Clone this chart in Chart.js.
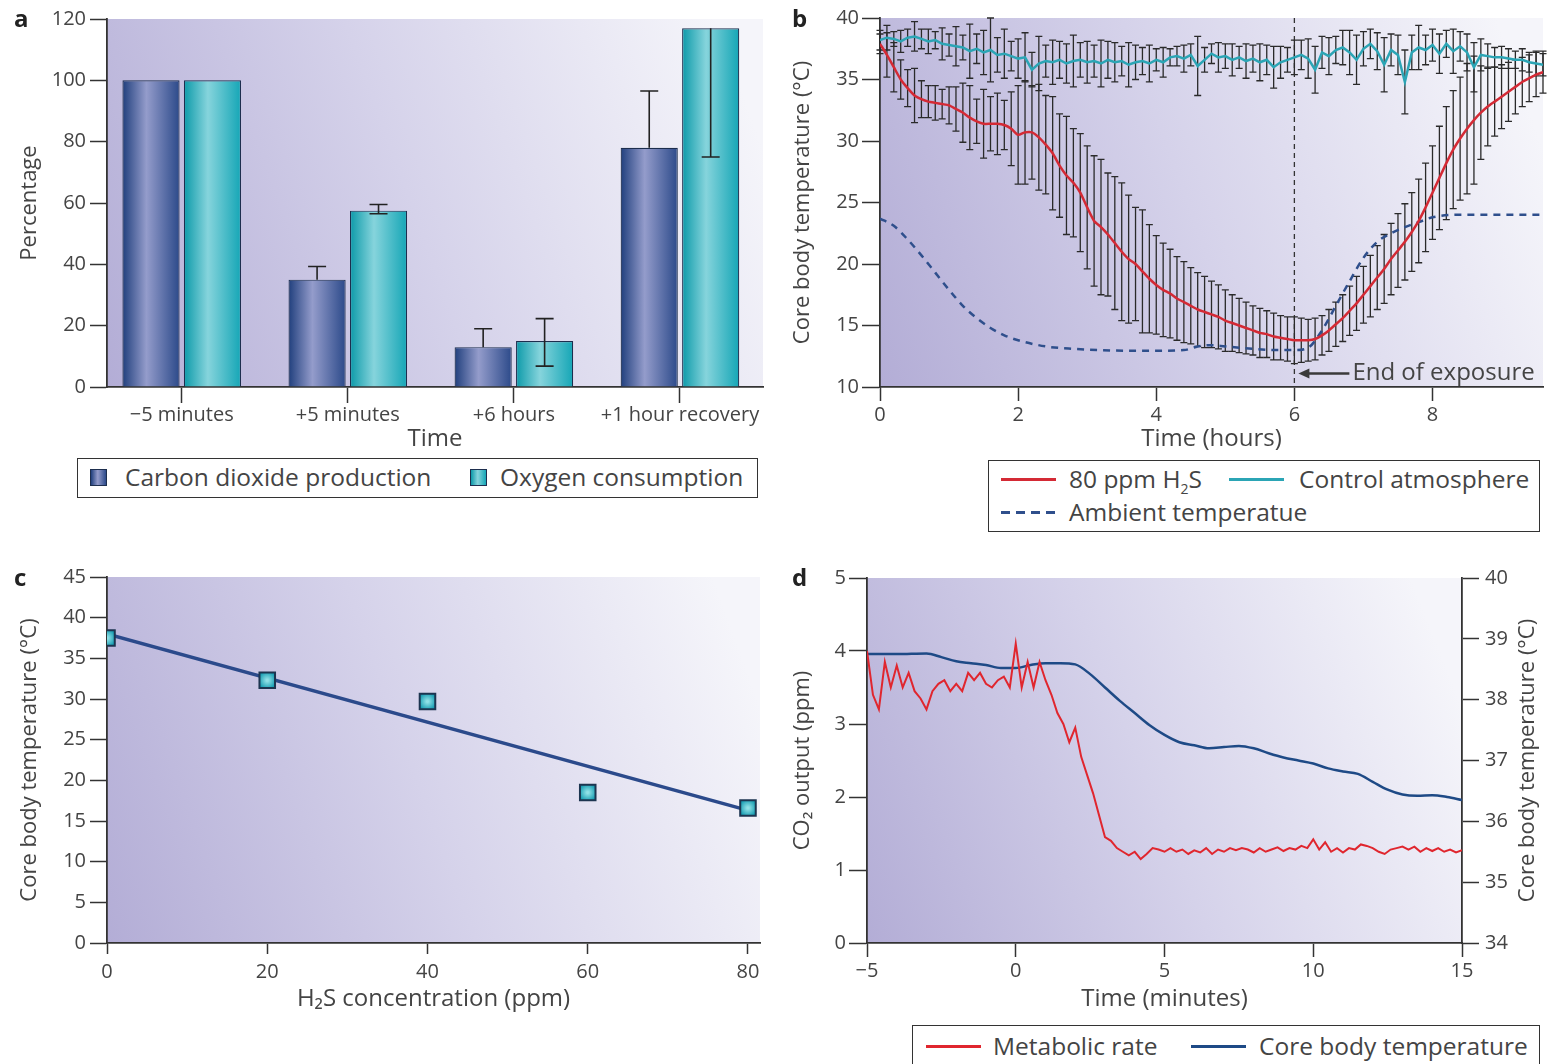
<html>
<head>
<script src="https://cdn.jsdelivr.net/npm/chart.js@4.4.0/dist/chart.umd.min.js"></script>
<style>
    body { margin: 0; background: #fff; font-family: 'Open Sans', 'Noto Sans', sans-serif; color: #444; }
    #page { position: relative; width: 1549px; height: 1064px; overflow: hidden; }
    canvas { position: absolute; }
    .tag { position: absolute; font-weight: bold; font-size: 24px; color: #222; line-height: 24px; }
    .legend { position: absolute; border: 1.5px solid #333; box-sizing: border-box; background: #fff; }
    .legend span { position: absolute; }
    .lt { font-size: 24.5px; color: #444; line-height: 30px; white-space: nowrap; }
    .sq { width: 17px; height: 17px; border: 1.5px solid #1d2e4e; box-sizing: border-box; }
    .ln { height: 3px; width: 55px; }
    sub { font-size: 14px; line-height: 0; }
</style>
</head>
<body>
<div id="page">
    <canvas id="chartA" width="780" height="455" style="left:0px;top:0px"></canvas>
    <canvas id="chartB" width="769" height="455" style="left:780px;top:0px"></canvas>
    <canvas id="chartC" width="780" height="470" style="left:0px;top:560px"></canvas>
    <canvas id="chartD" width="769" height="460" style="left:780px;top:560px"></canvas>

    <div class="tag" style="left:14px;top:6px">a</div>
    <div class="tag" style="left:792px;top:6px">b</div>
    <div class="tag" style="left:14px;top:565px">c</div>
    <div class="tag" style="left:792px;top:565px">d</div>

    <div class="legend" style="left:77px;top:458px;width:681px;height:40px">
        <span class="sq" style="left:12px;top:10px;background:linear-gradient(90deg,#203f7d,#949ccb 45%,#2c4a8a)"></span>
        <span class="lt" style="left:47px;top:3px">Carbon dioxide production</span>
        <span class="sq" style="left:392px;top:10px;background:linear-gradient(90deg,#0c9aa9,#86d4dc 45%,#15a6b6)"></span>
        <span class="lt" style="left:422px;top:3px">Oxygen consumption</span>
    </div>

    <div class="legend" style="left:988px;top:460px;width:552px;height:72px">
        <span class="ln" style="left:12px;top:17px;background:#d42a35"></span>
        <span class="lt" style="left:80px;top:3px">80 ppm H<sub>2</sub>S</span>
        <span class="ln" style="left:240px;top:17px;background:#2ba5b5"></span>
        <span class="lt" style="left:310px;top:3px">Control atmosphere</span>
        <span class="ln" style="left:12px;top:50px;background:repeating-linear-gradient(90deg,#2f4f8c 0 9px,transparent 9px 15px)"></span>
        <span class="lt" style="left:80px;top:36px">Ambient temperatue</span>
    </div>

    <div class="legend" style="left:912px;top:1025px;width:628px;height:46px">
        <span class="ln" style="left:13px;top:19px;background:#e0262e"></span>
        <span class="lt" style="left:80px;top:5px">Metabolic rate</span>
        <span class="ln" style="left:278px;top:19px;background:#1e4a86"></span>
        <span class="lt" style="left:346px;top:5px">Core body temperature</span>
    </div>
</div>
<script>
    // ---- panel a: metabolic measurements (percentage of baseline)
    const barLabels = ['\u22125 minutes', '+5 minutes', '+6 hours', '+1 hour recovery']
    const barSlots = [0, 1, 2, 3]
    const co2Values = [100, 35, 13, 78]
    const o2Values = [100, 57.5, 15, 117]
    const co2ErrLow = [null, null, null, null]
    const co2ErrHigh = [null, 39.3, 19, 96.5]
    const o2ErrLow = [null, 56.5, 6.8, 75]
    const o2ErrHigh = [null, 59.5, 22.3, null]

    // ---- panel b: core body temperature over time (hours)
    const hoursB = [0, 0.1, 0.2, 0.3, 0.4, 0.5, 0.6, 0.7, 0.8, 0.9,
        1, 1.1, 1.2, 1.3, 1.4, 1.5, 1.6, 1.7, 1.8, 1.9,
        2, 2.1, 2.2, 2.3, 2.4, 2.5, 2.6, 2.7, 2.8, 2.9,
        3, 3.1, 3.2, 3.3, 3.4, 3.5, 3.6, 3.7, 3.8, 3.9,
        4, 4.1, 4.2, 4.3, 4.4, 4.5, 4.6, 4.7, 4.8, 4.9,
        5, 5.1, 5.2, 5.3, 5.4, 5.5, 5.6, 5.7, 5.8, 5.9,
        6, 6.1, 6.2, 6.3, 6.4, 6.5, 6.6, 6.7, 6.8, 6.9,
        7, 7.1, 7.2, 7.3, 7.4, 7.5, 7.6, 7.7, 7.8, 7.9,
        8, 8.1, 8.2, 8.3, 8.4, 8.5, 8.6, 8.7, 8.8, 8.9,
        9, 9.1, 9.2, 9.3, 9.4, 9.5, 9.6]
    const h2sTemp = [37.9, 37.0, 36.0, 35.0, 34.3, 33.7, 33.4, 33.2, 33.1, 33.0,
        32.9, 32.6, 32.3, 31.9, 31.6, 31.4, 31.4, 31.4, 31.3, 31.0,
        30.5, 30.7, 30.7, 30.3, 29.7, 29.0, 28.0, 27.2, 26.6, 25.8,
        24.6, 23.5, 23.0, 22.4, 21.7, 21.0, 20.4, 20.0, 19.4, 18.8,
        18.3, 17.9, 17.6, 17.2, 16.9, 16.6, 16.3, 16.1, 15.9, 15.7,
        15.4, 15.2, 15.0, 14.8, 14.6, 14.4, 14.3, 14.1, 14.0, 13.9,
        13.8, 13.8, 13.8, 13.9, 14.2, 14.6, 15.1, 15.6, 16.2, 16.8,
        17.5, 18.2, 18.9, 19.6, 20.4, 21.1, 21.8, 22.6, 23.5, 24.6,
        25.8, 27.0, 28.2, 29.3, 30.2, 31.0, 31.7, 32.3, 32.8, 33.2,
        33.6, 34.0, 34.4, 34.8, 35.1, 35.4, 35.6]
    const h2sErr = [0.8, 1.8, 2.0, 1.6, 1.5, 2.2, 1.5, 1.3, 1.4, 1.2,
        1.5, 1.8, 2.4, 2.6, 1.8, 2.8, 2.2, 2.5, 2.0, 3.0,
        4.0, 4.2, 3.8, 4.3, 4.0, 4.6, 4.2, 4.8, 4.4, 4.8,
        5.0, 5.3, 5.5, 5.0, 5.4, 5.6, 5.2, 4.6, 5.0, 4.4,
        4.0, 3.8, 3.6, 3.4, 3.3, 3.1, 3.0, 2.9, 2.7, 2.6,
        2.5, 2.3, 2.2, 2.1, 2.0, 2.0, 1.9, 1.9, 1.8, 1.8,
        1.9, 1.8, 1.7, 1.7, 1.6, 1.7, 1.8, 1.9, 2.0, 2.2,
        2.3, 2.5, 2.6, 2.8, 2.9, 3.0, 3.1, 3.2, 3.4, 3.6,
        3.8, 4.2, 4.6, 4.8, 5.0, 5.3, 5.2, 3.8, 3.2, 2.8,
        2.6, 2.4, 2.2, 2.0, 1.9, 1.8, 1.7]
    const controlTemp = [38.2, 38.4, 38.3, 38.1, 38.4, 38.5, 38.3, 38.1, 38.2, 37.9,
        37.8, 37.7, 37.6, 37.3, 37.5, 37.2, 37.4, 37.0, 37.1, 36.9,
        36.7, 36.8, 35.8, 36.3, 36.5, 36.4, 36.6, 36.3, 36.5, 36.6,
        36.4, 36.5, 36.3, 36.6, 36.4, 36.5, 36.2, 36.4, 36.5, 36.3,
        36.6, 36.4, 36.8, 36.9, 36.7, 37.0, 36.1, 36.6, 37.1, 36.8,
        36.9, 36.6, 36.8, 36.5, 36.7, 36.4, 36.6, 36.0, 36.4, 36.6,
        36.8, 37.0, 36.7, 35.8, 37.2, 36.9, 37.4, 37.6, 37.2, 36.6,
        37.5, 37.9, 37.3, 36.2, 37.4, 37.0, 34.8, 37.2, 37.6, 37.4,
        37.8, 37.1, 37.9, 37.3, 37.7, 37.2, 36.0, 37.0, 36.9, 36.8,
        36.8, 36.7, 36.6, 36.6, 36.4, 36.3, 36.2]
    const controlErr = [0.8, 1.0, 0.6, 0.9, 0.7, 1.2, 0.8, 1.0, 0.7, 1.3,
        0.9, 1.6, 1.0, 2.2, 1.2, 1.8, 2.6, 1.4, 2.0, 1.2,
        1.6, 2.0, 1.4, 2.2, 1.3, 1.8, 1.5, 1.6, 2.1, 1.4,
        1.7, 1.3, 1.9, 1.5, 1.6, 1.2, 1.8, 1.4, 1.1, 1.5,
        0.9, 1.2, 0.7, 0.8, 1.1, 0.9, 2.4, 1.0, 0.8, 1.2,
        1.0, 1.3, 0.9, 1.4, 1.1, 1.5, 1.2, 1.7, 1.3, 1.0,
        1.4, 1.2, 1.6, 1.9, 1.3, 1.5, 1.1, 1.4, 1.8, 2.0,
        1.4, 1.2, 1.5, 2.2, 1.3, 1.6, 2.6, 1.4, 1.8, 1.2,
        1.3, 1.6, 1.1, 1.8, 1.2, 1.5, 2.0, 1.3, 1.0, 0.8,
        0.9, 0.8, 0.7, 0.9, 0.8, 1.0, 0.9]
    const ambientHours = [0, 0.2, 0.4, 0.6, 0.8, 1, 1.2, 1.4, 1.6, 1.8, 2, 2.4, 2.8, 3.2, 3.6, 4, 4.4, 4.6, 4.8, 5,
        5.4, 5.8, 6, 6.2, 6.4, 6.6, 6.8, 7, 7.2, 7.4, 7.6, 7.8, 8, 8.4, 9.6]
    const ambientTemp = [23.7, 23.1, 22.0, 20.7, 19.3, 17.9, 16.6, 15.6, 14.8, 14.2, 13.8, 13.3, 13.1, 13.0, 12.95, 12.95, 13.0, 13.3, 13.4, 13.3,
        13.1, 13.0, 13.0, 13.2, 14.6, 16.6, 18.6, 20.5, 21.8, 22.5, 23.0, 23.4, 23.8, 24.0, 24.0]
    const exposureEnd = 6

    // ---- panel c: dose response
    const h2sPpm = [0, 20, 40, 60, 80]
    const coreTempC = [37.5, 32.3, 29.7, 18.5, 16.6]
    const fitPpm = [0, 80]
    const fitTemp = [38.0, 16.3]

    // ---- panel d: metabolic rate and core temperature (minutes)
    const minutesRed = [-5, -4.8, -4.6, -4.4, -4.2, -4, -3.8, -3.6, -3.4, -3.2,
        -3, -2.8, -2.6, -2.4, -2.2, -2, -1.8, -1.6, -1.4, -1.2,
        -1, -0.8, -0.6, -0.4, -0.2, 0, 0.2, 0.4, 0.6, 0.8,
        1, 1.2, 1.4, 1.6, 1.8, 2, 2.2, 2.4, 2.6, 2.8,
        3, 3.2, 3.4, 3.6, 3.8, 4, 4.2, 4.4, 4.6, 4.8,
        5, 5.2, 5.4, 5.6, 5.8, 6, 6.2, 6.4, 6.6, 6.8,
        7, 7.2, 7.4, 7.6, 7.8, 8, 8.2, 8.4, 8.6, 8.8,
        9, 9.2, 9.4, 9.6, 9.8, 10, 10.2, 10.4, 10.6, 10.8,
        11, 11.2, 11.4, 11.6, 11.8, 12, 12.2, 12.4, 12.6, 12.8,
        13, 13.2, 13.4, 13.6, 13.8, 14, 14.2, 14.4, 14.6, 14.8, 15]
    const metabolicRate = [4.0, 3.4, 3.2, 3.85, 3.5, 3.8, 3.5, 3.7, 3.45, 3.35,
        3.2, 3.45, 3.55, 3.6, 3.45, 3.55, 3.45, 3.7, 3.6, 3.7,
        3.55, 3.5, 3.6, 3.65, 3.5, 4.1, 3.5, 3.85, 3.5, 3.85,
        3.6, 3.4, 3.15, 3.0, 2.75, 2.95, 2.55, 2.3, 2.05, 1.75,
        1.45, 1.4, 1.3, 1.25, 1.2, 1.25, 1.15, 1.22, 1.3, 1.28,
        1.25, 1.3, 1.25, 1.28, 1.22, 1.27, 1.24, 1.3, 1.22, 1.28,
        1.25, 1.3, 1.27, 1.3, 1.28, 1.24, 1.3, 1.25, 1.28, 1.31,
        1.26, 1.3, 1.28, 1.33, 1.3, 1.42, 1.28, 1.38, 1.25, 1.3,
        1.24, 1.3, 1.28, 1.35, 1.33, 1.3, 1.25, 1.22, 1.28, 1.3,
        1.32, 1.28, 1.32, 1.25, 1.3, 1.26, 1.3, 1.25, 1.28, 1.24, 1.27]
    const minutesTemp = [-5, -4, -3, -2.5, -2, -1.5, -1, -0.5, 0, 0.5, 1, 1.5, 2, 2.5, 3, 3.5, 4, 4.5, 5, 5.5,
        6, 6.5, 7, 7.5, 8, 8.5, 9, 9.5, 10, 10.5, 11, 11.5, 12, 12.5, 13, 13.5, 14, 14.5, 15]
    const bodyTemp = [38.75, 38.75, 38.76, 38.7, 38.63, 38.6, 38.57, 38.52, 38.52, 38.57, 38.6, 38.6, 38.58, 38.42, 38.2, 37.98, 37.78, 37.58, 37.42, 37.3,
        37.25, 37.2, 37.22, 37.24, 37.2, 37.12, 37.05, 37.0, 36.95, 36.87, 36.82, 36.78, 36.65, 36.52, 36.44, 36.42, 36.43, 36.4, 36.35]

    Chart.defaults.font.family = "'Open Sans', 'Noto Sans', sans-serif"
    Chart.defaults.font.size = 20
    Chart.defaults.color = '#444'
    Chart.defaults.animation = false
    Chart.defaults.plugins.legend.display = false
    Chart.defaults.plugins.tooltip.enabled = false

    const inkColor = '#333'
    const catPct = 0.74
    const barPct = 0.93
    const fontStack = "'Open Sans', 'Noto Sans', sans-serif"

    // lavender wash behind each plot area
    const plotBg = {
        id: 'plotBg',
        beforeDraw(chart) {
            const { ctx, chartArea: a } = chart
            const g = ctx.createLinearGradient(a.left, a.bottom, a.right, a.top + (a.bottom - a.top) * 0.35)
            g.addColorStop(0, '#b3add6')
            g.addColorStop(0.5, '#d5d2ea')
            g.addColorStop(1, '#f5f5fa')
            ctx.save()
            ctx.fillStyle = g
            ctx.fillRect(a.left, a.top, a.right - a.left, a.bottom - a.top)
            ctx.restore()
        },
    }

    function errorBars(id, specs, under) {
        const hook = under ? 'beforeDatasetsDraw' : 'afterDatasetsDraw'
        return {
            id: id,
            [hook](chart) {
                const ctx = chart.ctx
                const ys = chart.scales.y
                ctx.save()
                specs.forEach((s) => {
                    const meta = chart.getDatasetMeta(s.dataset)
                    ctx.strokeStyle = s.color
                    ctx.lineWidth = s.width
                    meta.data.forEach((el, i) => {
                        const lo = s.low[i]
                        const hi = s.high[i]
                        if (lo == null && hi == null) return
                        const yLo = lo == null ? el.y : ys.getPixelForValue(lo)
                        const yHi = hi == null ? el.y : ys.getPixelForValue(hi)
                        const half = s.cap / 2
                        ctx.beginPath()
                        ctx.moveTo(el.x, yLo)
                        ctx.lineTo(el.x, yHi)
                        if (lo != null) {
                            ctx.moveTo(el.x - half, yLo)
                            ctx.lineTo(el.x + half, yLo)
                        }
                        if (hi != null) {
                            ctx.moveTo(el.x - half, yHi)
                            ctx.lineTo(el.x + half, yHi)
                        }
                        ctx.stroke()
                    })
                })
                ctx.restore()
            },
        }
    }

    function axisStyle(tickLength) {
        return {
            grid: { drawOnChartArea: false, drawTicks: true, tickLength: tickLength, tickColor: inkColor, tickWidth: 1.5 },
            border: { display: true, color: inkColor, width: 1.8 },
        }
    }

    function axisTitle(text, size, pad) {
        return { display: true, text: text, color: '#444', font: { size: size }, padding: pad }
    }

    const minusSign = (v) => String(v).replace('-', '\u2212')

    // bar shading across the width of each bar
    function barFill(c, stops) {
        const chart = c.chart
        const a = chart.chartArea
        const xs = chart.scales.x
        if (!a || !xs) return stops[1]
        const slot = xs.getPixelForValue(1) - xs.getPixelForValue(0)
        const thick = (slot * catPct) / 2
        const size = thick * barPct
        const center = xs.getPixelForValue(barSlots[c.dataIndex]) - (slot * catPct) / 2 + thick * (c.datasetIndex + 0.5)
        const g = chart.ctx.createLinearGradient(center - size / 2, 0, center + size / 2, 0)
        g.addColorStop(0, stops[0])
        g.addColorStop(0.42, stops[1])
        g.addColorStop(1, stops[2])
        return g
    }

    // ---------------- panel a
    new Chart(document.getElementById('chartA'), {
        type: 'bar',
        data: {
            datasets: [
                {
                    label: 'Carbon dioxide production',
                    data: barSlots.map((s, i) => ({ x: s, y: co2Values[i] })),
                    backgroundColor: (c) => barFill(c, ['#203f7d', '#949ccb', '#2c4a8a']),
                    borderColor: '#1d2e4e',
                    borderWidth: 1.2,
                    categoryPercentage: catPct,
                    barPercentage: barPct,
                },
                {
                    label: 'Oxygen consumption',
                    data: barSlots.map((s, i) => ({ x: s, y: o2Values[i] })),
                    backgroundColor: (c) => barFill(c, ['#0c9aa9', '#86d4dc', '#15a6b6']),
                    borderColor: '#1d2e4e',
                    borderWidth: 1.2,
                    categoryPercentage: catPct,
                    barPercentage: barPct,
                },
            ],
        },
        options: {
            responsive: false,
            layout: { padding: { top: 19, right: 17, left: 0, bottom: 0 } },
            scales: {
                x: {
                    ...axisStyle(16),
                    type: 'linear',
                    offset: false,
                    min: -0.45,
                    max: 3.5,
                    grid: { drawOnChartArea: false, drawTicks: true, tickLength: 16, tickColor: inkColor, tickWidth: 1.5, offset: false },
                    ticks: {
                        stepSize: 1,
                        includeBounds: false,
                        padding: 0,
                        color: '#444',
                        maxRotation: 0,
                        minRotation: 0,
                        autoSkip: false,
                        callback: (v) => (barLabels[v] !== undefined ? barLabels[v] : ''),
                    },
                    title: axisTitle('Time', 24, { top: 0, bottom: 1 }),
                    afterFit: (s) => { s.height = 68 },
                },
                y: {
                    ...axisStyle(17),
                    min: 0,
                    max: 120,
                    ticks: { stepSize: 20, padding: 4, color: '#444' },
                    title: axisTitle('Percentage', 22, { top: 17, bottom: 0 }),
                    afterFit: (s) => { s.width = 107 },
                },
            },
        },
        plugins: [
            plotBg,
            errorBars('errA', [
                { dataset: 0, low: co2ErrLow, high: co2ErrHigh, color: '#222', width: 1.6, cap: 18 },
                { dataset: 1, low: o2ErrLow, high: o2ErrHigh, color: '#222', width: 1.6, cap: 18 },
            ], false),
        ],
    })

    // ---------------- panel b
    const exposureMark = {
        id: 'exposureMark',
        beforeDatasetsDraw(chart) {
            const { ctx, chartArea: a, scales } = chart
            const px = scales.x.getPixelForValue(exposureEnd)
            ctx.save()
            ctx.setLineDash([5, 4])
            ctx.strokeStyle = inkColor
            ctx.lineWidth = 1.3
            ctx.beginPath()
            ctx.moveTo(px, a.top)
            ctx.lineTo(px, a.bottom)
            ctx.stroke()
            ctx.restore()
        },
        afterDatasetsDraw(chart) {
            const { ctx, scales } = chart
            const px = scales.x.getPixelForValue(exposureEnd)
            const py = scales.y.getPixelForValue(11.1)
            ctx.save()
            ctx.strokeStyle = '#3a3a3a'
            ctx.fillStyle = '#3a3a3a'
            ctx.lineWidth = 2.5
            ctx.beginPath()
            ctx.moveTo(px + 12, py)
            ctx.lineTo(px + 55, py)
            ctx.stroke()
            ctx.beginPath()
            ctx.moveTo(px + 4, py)
            ctx.lineTo(px + 15, py - 5)
            ctx.lineTo(px + 15, py + 5)
            ctx.closePath()
            ctx.fill()
            ctx.fillStyle = '#444'
            ctx.font = '24px ' + fontStack
            ctx.textBaseline = 'middle'
            ctx.fillText('End of exposure', px + 58, py)
            ctx.restore()
        },
    }

    new Chart(document.getElementById('chartB'), {
        type: 'line',
        data: {
            datasets: [
                {
                    label: '80 ppm H\u2082S',
                    data: hoursB.map((h, i) => ({ x: h, y: h2sTemp[i] })),
                    borderColor: '#d42a35',
                    borderWidth: 2.5,
                    pointRadius: 0,
                    tension: 0.2,
                },
                {
                    label: 'Control atmosphere',
                    data: hoursB.map((h, i) => ({ x: h, y: controlTemp[i] })),
                    borderColor: '#2ba5b5',
                    borderWidth: 2.5,
                    pointRadius: 0,
                },
                {
                    label: 'Ambient temperatue',
                    data: ambientHours.map((h, i) => ({ x: h, y: ambientTemp[i] })),
                    borderColor: '#2f4f8c',
                    borderWidth: 2.5,
                    borderDash: [7, 6],
                    pointRadius: 0,
                    cubicInterpolationMode: 'monotone',
                },
            ],
        },
        options: {
            responsive: false,
            layout: { padding: { top: 18, right: 6, left: 0, bottom: 0 } },
            scales: {
                x: {
                    ...axisStyle(14),
                    type: 'linear',
                    min: 0,
                    max: 9.6,
                    ticks: { stepSize: 2, includeBounds: false, padding: 2, color: '#444' },
                    title: axisTitle('Time (hours)', 24, { top: 0, bottom: 1 }),
                    afterFit: (s) => { s.height = 68 },
                },
                y: {
                    ...axisStyle(18),
                    min: 10,
                    max: 40,
                    ticks: { stepSize: 5, padding: 3, color: '#444' },
                    title: axisTitle('Core body temperature (\u00B0C)', 22, { top: 10, bottom: 0 }),
                    afterFit: (s) => { s.width = 100 },
                },
            },
        },
        plugins: [
            plotBg,
            exposureMark,
            errorBars('errB', [
                { dataset: 0, low: h2sTemp.map((v, i) => v - h2sErr[i]), high: h2sTemp.map((v, i) => v + h2sErr[i]), color: '#2a2a2a', width: 1.3, cap: 7 },
                { dataset: 1, low: controlTemp.map((v, i) => v - controlErr[i]), high: controlTemp.map((v, i) => v + controlErr[i]), color: '#2a2a2a', width: 1.3, cap: 7 },
            ], true),
        ],
    })

    // ---------------- panel c
    function markerFill(c) {
        const chart = c.chart
        if (!chart.scales.x || !chart.chartArea) return '#2ab0c0'
        const px = chart.scales.x.getPixelForValue(h2sPpm[c.dataIndex])
        const py = chart.scales.y.getPixelForValue(coreTempC[c.dataIndex])
        const g = chart.ctx.createRadialGradient(px, py, 1, px, py, 9)
        g.addColorStop(0, '#8fe0e6')
        g.addColorStop(1, '#139bb0')
        return g
    }

    new Chart(document.getElementById('chartC'), {
        type: 'scatter',
        data: {
            datasets: [
                {
                    label: 'Measured',
                    data: h2sPpm.map((p, i) => ({ x: p, y: coreTempC[i] })),
                    pointStyle: 'rect',
                    pointRadius: 11,
                    backgroundColor: markerFill,
                    borderColor: '#1c3550',
                    borderWidth: 2,
                    order: 0,
                },
                {
                    type: 'line',
                    label: 'Fit',
                    data: fitPpm.map((p, i) => ({ x: p, y: fitTemp[i] })),
                    borderColor: '#2b4a8b',
                    borderWidth: 3.5,
                    pointRadius: 0,
                    order: 1,
                },
            ],
        },
        options: {
            responsive: false,
            layout: { padding: { top: 17, right: 20, left: 0, bottom: 0 } },
            scales: {
                x: {
                    ...axisStyle(11),
                    type: 'linear',
                    min: 0,
                    max: 81.5,
                    ticks: { stepSize: 20, includeBounds: false, padding: 6, color: '#444' },
                    title: axisTitle('H\u2082S concentration (ppm)', 24, { top: 0, bottom: 16 }),
                    afterFit: (s) => { s.height = 87 },
                },
                y: {
                    ...axisStyle(17),
                    min: 0,
                    max: 45,
                    ticks: { stepSize: 5, padding: 4, color: '#444' },
                    title: axisTitle('Core body temperature (\u00B0C)', 22, { top: 17, bottom: 0 }),
                    afterFit: (s) => { s.width = 107 },
                },
            },
        },
        plugins: [plotBg],
    })

    // ---------------- panel d
    // right-hand axis title reads bottom-to-top like the left one
    const rightTitle = {
        id: 'rightTitle',
        afterDraw(chart) {
            const { ctx, chartArea: a } = chart
            const s = chart.scales.y1
            ctx.save()
            ctx.translate(s.right - 21, (a.top + a.bottom) / 2)
            ctx.rotate(-Math.PI / 2)
            ctx.fillStyle = '#444'
            ctx.font = '22px ' + fontStack
            ctx.textAlign = 'center'
            ctx.textBaseline = 'middle'
            ctx.fillText('Core body temperature (\u00B0C)', 0, 0)
            ctx.restore()
        },
    }

    new Chart(document.getElementById('chartD'), {
        type: 'line',
        data: {
            datasets: [
                {
                    label: 'Metabolic rate',
                    data: minutesRed.map((m, i) => ({ x: m, y: metabolicRate[i] })),
                    borderColor: '#e0262e',
                    borderWidth: 2,
                    pointRadius: 0,
                    yAxisID: 'y',
                },
                {
                    label: 'Core body temperature',
                    data: minutesTemp.map((m, i) => ({ x: m, y: bodyTemp[i] })),
                    borderColor: '#1e4a86',
                    borderWidth: 2.5,
                    pointRadius: 0,
                    cubicInterpolationMode: 'monotone',
                    yAxisID: 'y1',
                },
            ],
        },
        options: {
            responsive: false,
            layout: { padding: { top: 17, right: 0, left: 0, bottom: 0 } },
            scales: {
                x: {
                    ...axisStyle(14),
                    type: 'linear',
                    min: -5,
                    max: 15,
                    ticks: { stepSize: 5, padding: 2, color: '#444', callback: minusSign },
                    title: axisTitle('Time (minutes)', 24, { top: 0, bottom: 6 }),
                    afterFit: (s) => { s.height = 77 },
                },
                y: {
                    ...axisStyle(18),
                    position: 'left',
                    min: 0,
                    max: 5,
                    ticks: { stepSize: 1, padding: 3, color: '#444' },
                    title: axisTitle('CO\u2082 output (ppm)', 22, { top: 10, bottom: 0 }),
                    afterFit: (s) => { s.width = 87 },
                },
                y1: {
                    ...axisStyle(17),
                    position: 'right',
                    min: 34,
                    max: 40,
                    ticks: { stepSize: 1, padding: 6, color: '#444' },
                    afterFit: (s) => { s.width = 87 },
                },
            },
        },
        plugins: [plotBg, rightTitle],
    })
</script>
</body>
</html>
